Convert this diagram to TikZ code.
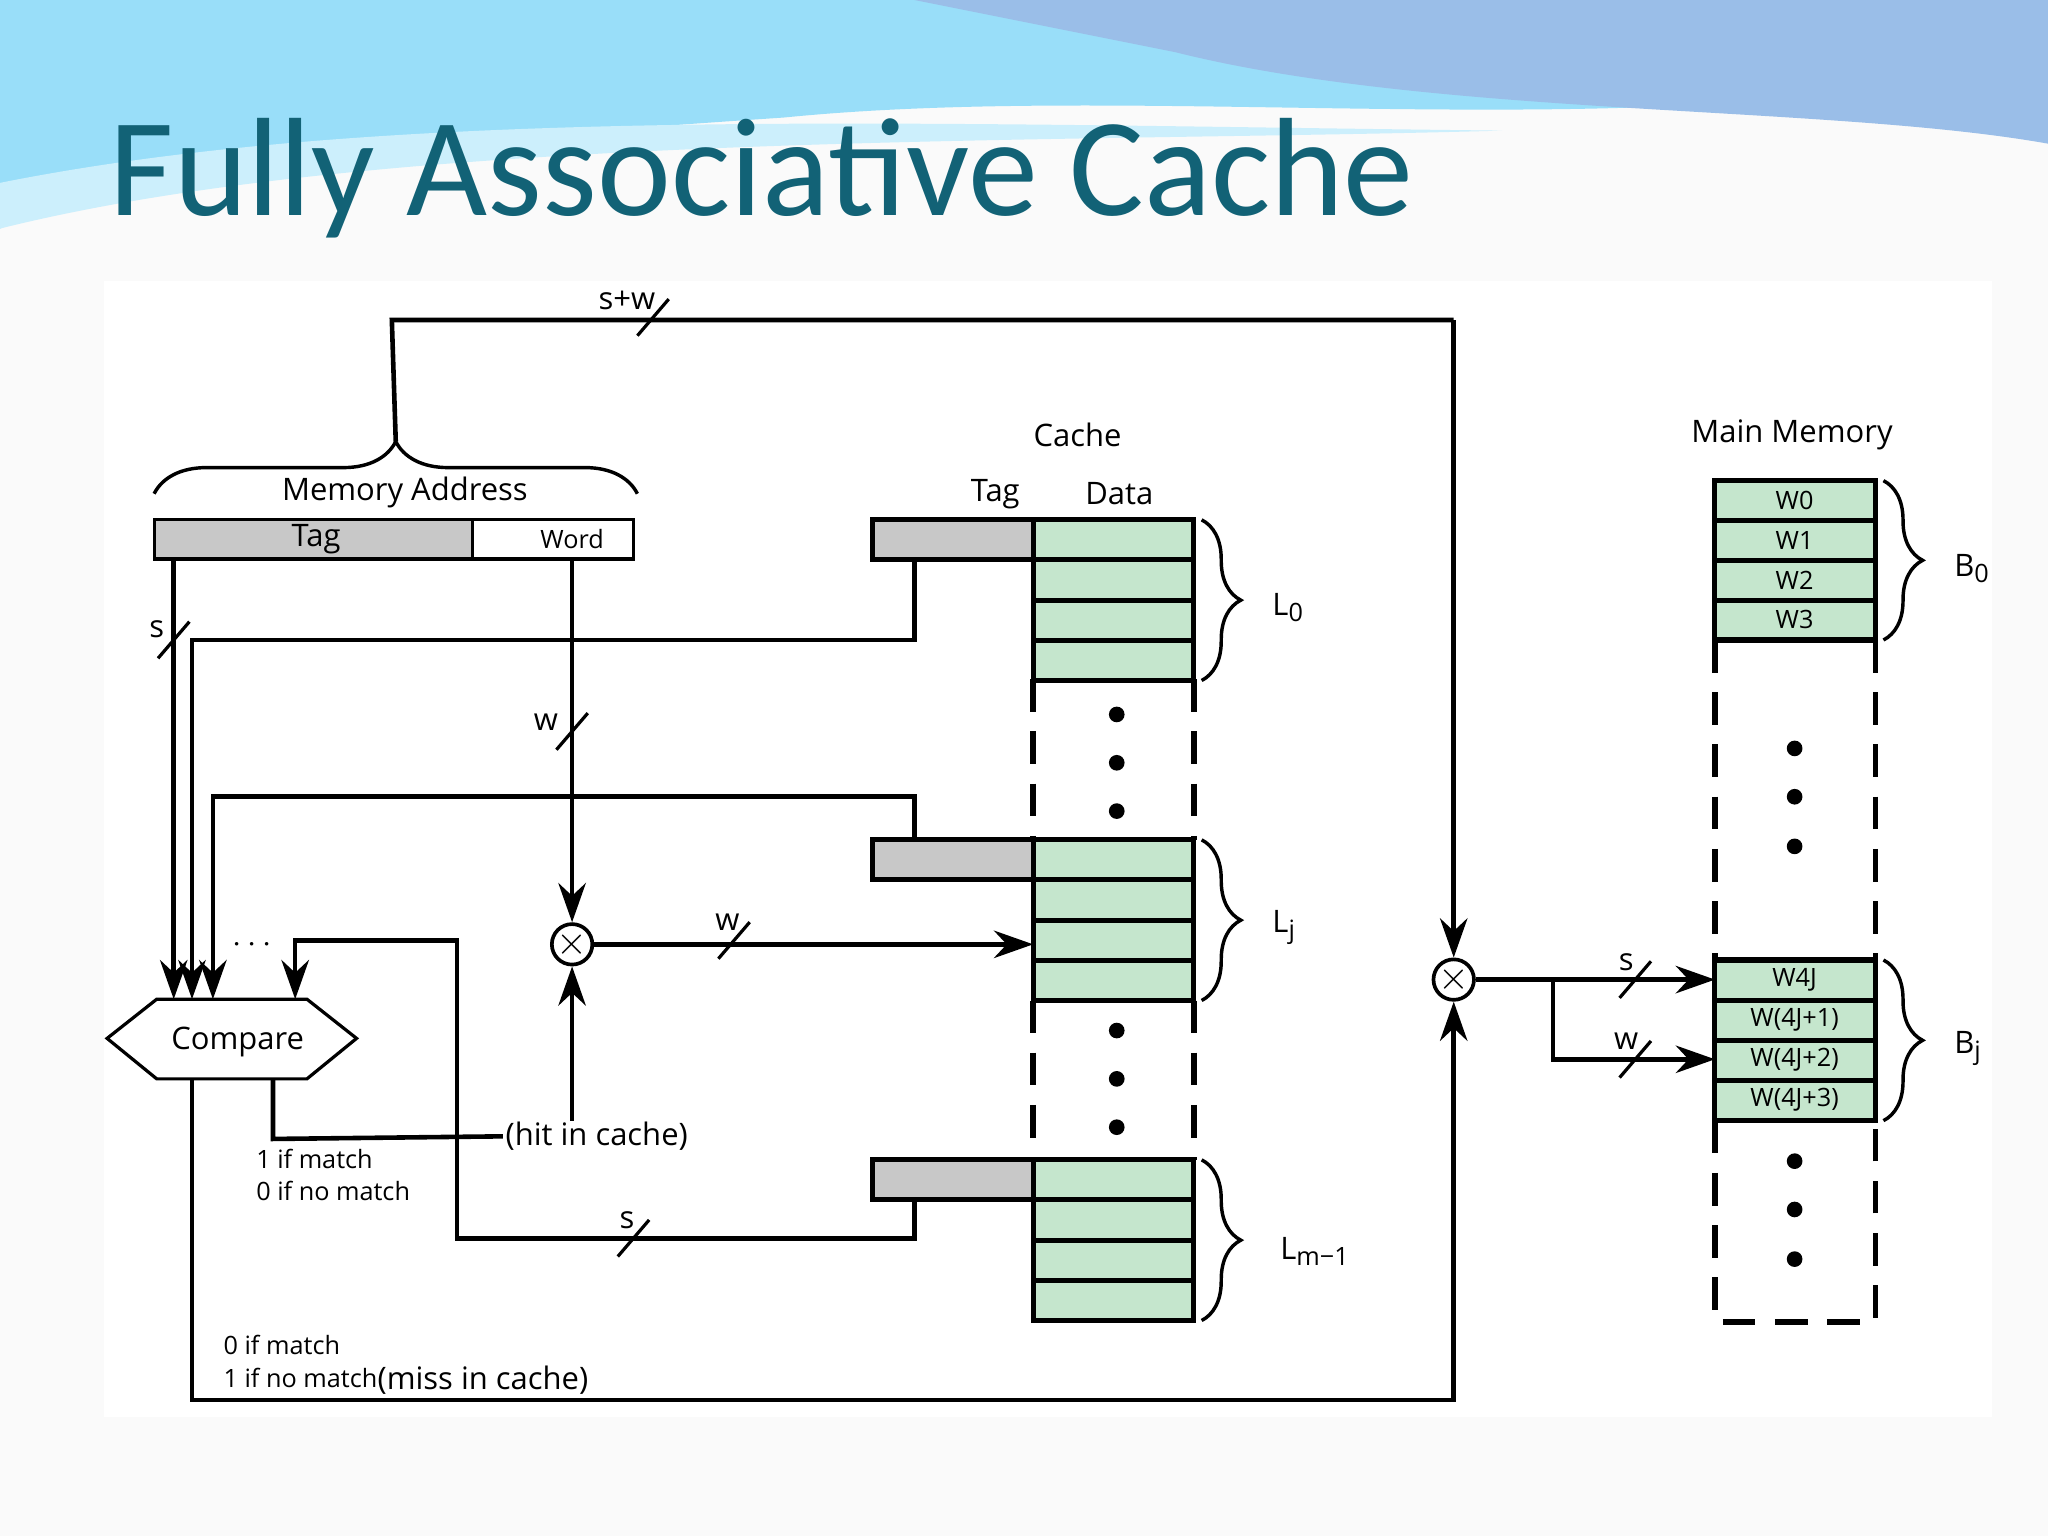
\documentclass[tikz,border=0pt]{standalone}
\usepackage{fontspec}
\setmainfont{Open Sans}
\newfontfamily\titlefont{Carlito}
\usetikzlibrary{arrows.meta,decorations.pathreplacing,shapes.geometric,calc}
\definecolor{cgreen}{RGB}{197,230,205}
\definecolor{cgray}{RGB}{200,200,200}
\definecolor{ttl}{RGB}{18,98,118}
\tikzset{
 ln/.style={line width=2pt},
 ar/.style={ln,-{Stealth[length=0.6cm,width=0.42cm]}},
 gbox/.style={draw,line width=2.2pt,fill=cgreen},
 tbox/.style={draw,line width=2.2pt,fill=cgray},
 dsh/.style={line width=2.4pt,dash pattern=on 0.5cm off 0.3cm},
 br/.style={decorate,decoration={brace,amplitude=0.8cm},line width=1.5pt},
 dot/.style={circle,fill,inner sep=0pt,minimum size=0.24cm},
 mux/.style={circle,draw,line width=1.6pt,minimum size=0.56cm,inner sep=0pt,font=\fontsize{16}{16}\selectfont},
 lbl/.style={font=\fontsize{13.5}{16}\selectfont},
 sm/.style={font=\fontsize{11}{13}\selectfont}
}
\newcommand{\mytick}[1]{\draw[line width=1.4pt] ($(#1)+(-12,14)$) -- ($(#1)+(12,-14)$);}
\newcommand{\Lsub}[2]{#1\raisebox{-0.35ex}{\fontsize{11}{12}\selectfont #2}}
\begin{document}
\begin{tikzpicture}[x=0.02cm,y=-0.02cm]
\useasboundingbox (0,0) rectangle (1568,1176);
\fill[white!96!gray] (0,0) rectangle (1568,1176);
% header waves
\fill[cyan!40] (0,0) -- (1568,0) -- (1568,40) .. controls (1300,120) and (900,60) .. (600,90) .. controls (300,110) and (100,130) .. (0,175) -- cycle;
\fill[cyan!60!blue!40] (700,0) -- (1568,0) -- (1568,110) .. controls (1400,80) and (1100,90) .. (900,40) .. controls (800,20) and (750,10) .. (700,0) -- cycle;
\fill[white!80!cyan] (0,140) .. controls (300,80) and (700,95) .. (1150,100) .. controls (800,110) and (300,100) .. (0,175) -- cycle;
\fill[white] (80,215) rectangle (1525,1085);
\node[anchor=base west,text=ttl,font=\titlefont\fontsize{61}{61}\selectfont] (title) at (78,165) {Fully Associative Cache};

% memory address
\draw[br] (118,378) -- (488,378);
\node[lbl] (ma) at (310,377) {Memory Address};
\draw[tbox,line width=1.4pt] (118,398) rectangle (362,428);
\node[lbl] (tagl) at (242,413) {Tag};
\draw[line width=1.4pt,fill=white] (362,398) rectangle (485,428);
\node[sm] (wordl) at (438,413) {Word};
\coordinate (brtip) at (303,338);

% cache
\node[lbl] (cachel) at (825,333) {Cache};
\node[lbl] (ctag) at (762,378) {Tag};
\node[lbl] (cdata) at (857,378) {Data};
\foreach \y/\n in {398/a,643/b,888/c}{
  \draw[tbox] (668,\y) rectangle (791,\y+30);
  \foreach \k in {0,1,2,3}{\draw[gbox] (791,\y+30.7*\k) rectangle (914,\y+30.7*\k+30.7);}
  \draw[br,decoration={amplitude=0.6cm}] (920,\y) -- (920,\y+123);
}
\draw[dsh] (791,520) -- (791,643) (914,520) -- (914,643) (791,766) -- (791,888) (914,766) -- (914,888);
\foreach \y in {547,584,621,789,826,863} \node[dot] at (855,\y) {};
\node[lbl,anchor=west] (L0) at (968,465) {\Lsub{L}{0}};
\node[lbl,anchor=west] (Lj) at (968,710) {\Lsub{L}{j}};
\node[lbl,anchor=west] (Lm) at (974,958) {\Lsub{L}{m−1}};

% main memory
\node[lbl] (mml) at (1372,333) {Main Memory};
\foreach \t [count=\k from 0] in {W0,W1,W2,W3}{
  \draw[gbox] (1313,368+30.5*\k) rectangle (1436,398.5+30.5*\k);
  \node[sm] at (1374,383+30.5*\k) {\t};}
\foreach \t [count=\k from 0] in {W4J,W(4J+1),W(4J+2),W(4J+3)}{
  \draw[gbox] (1313,735+30.7*\k) rectangle (1436,765.7+30.7*\k);
  \node[sm] at (1374,750+30.7*\k) {\t};}
\draw[dsh] (1313,490) -- (1313,735) (1436,490) -- (1436,735) (1313,858) -- (1313,1012) -- (1436,1012) -- (1436,858);
\foreach \y in {573,610,648,889,926,964} \node[dot] at (1374,\y) {};
\draw[br,decoration={amplitude=0.6cm}] (1442,368) -- (1442,490);
\draw[br,decoration={amplitude=0.6cm}] (1442,735) -- (1442,858);
\node[lbl,anchor=west] (B0) at (1490,435) {\Lsub{B}{0}};
\node[lbl,anchor=west] (Bj) at (1490,803) {\Lsub{B}{j}};

% compare
\draw[line width=1.4pt] (82,795) -- (120,765) -- (235,765) -- (273,795) -- (235,826) -- (120,826) -- cycle;
\node[lbl] (cmp) at (182,798) {Compare};
\node[lbl] (dots) at (193,724) {$\cdots$};

% muxes
\node[mux] (m1) at (438,723) {$\times$};
\node[mux] (m2) at (1113,750) {$\times$};

% top path
\draw[ln] (brtip) -- (300,245) -- (1113,245);
\draw[ar] (1113,245) -- (m2.north);
\mytick{500,243} \node[lbl] at (480,230) {s+w};

% tag to compare
\draw[ar] (133,428) -- (133,765);
\mytick{133,490} \node[lbl] at (120,482) {s};
\draw[ar] (700,428) -- (700,490) -- (147,490) -- (147,765);
\draw[ar] (700,643) -- (700,610) -- (163,610) -- (163,765);
\draw[ar] (700,918) -- (700,948) -- (350,948) -- (350,720) -- (226,720) -- (226,765);
\mytick{485,948} \node[lbl] at (480,934) {s};

% word
\draw[ar] (438,428) -- (m1.north);
\mytick{438,560} \node[lbl] at (418,553) {w};
\draw[ar] (m1.east) -- (791,723);
\mytick{562,720} \node[lbl] at (557,706) {w};

% hit
\node[lbl,anchor=west,inner sep=1pt] (hit) at (385,870) {(hit in cache)};
\draw[ln] (209,826) -- (209,872) -- (hit.west);
\draw[ar] (438,858) -- (m1.south);
\node[sm,anchor=west] at (190,887) {1 if match};
\node[sm,anchor=west] at (190,912) {0 if no match};

% miss
\node[lbl,anchor=south west,inner sep=1pt] (miss) at (287,1070) {(miss in cache)};
\draw[ar] (147,826) -- (147,1072) -- (1113,1072) -- (m2.south);
\node[sm,anchor=west] at (165,1030) {0 if match};
\node[sm,anchor=west] at (165,1055) {1 if no match};

% to memory
\draw[ar] (m2.east) -- (1313,750);
\draw[ar] (1189,750) -- (1189,811) -- (1313,811);
\mytick{1252,750} \node[lbl] at (1245,737) {s};
\mytick{1252,811} \node[lbl] at (1245,797) {w};
\end{tikzpicture}
\end{document}
